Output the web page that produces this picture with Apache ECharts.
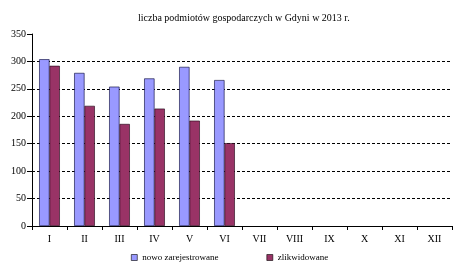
<!DOCTYPE html>
<html><head><meta charset="utf-8">
<script src="https://cdn.jsdelivr.net/npm/echarts@6/dist/echarts.min.js"></script>
<style>html,body{margin:0;padding:0;background:#fff}#c{width:460px;height:267px}</style>
</head><body><div id="c"></div>
<script>
const categories = ['I','II','III','IV','V','VI','VII','VIII','IX','X','XI','XII'];
const nowoZarejestrowane = [304, 279, 254, 269, 290, 266, null, null, null, null, null, null];
const zlikwidowane = [292, 219, 186, 214, 192, 151, null, null, null, null, null, null];
const gridValues = [50, 100, 150, 200, 250, 300];
const seriesNames = ['nowo zarejestrowane', 'zlikwidowane'];
const titleText = 'liczba podmiotów gospodarczych w Gdyni w 2013 r.';

const font = '"Liberation Serif", "Times New Roman", serif';
const chart = echarts.init(document.getElementById('c'), null, {renderer: 'canvas'});
chart.setOption({
  animation: false,
  backgroundColor: '#fff',
  title: {
    text: titleText, left: 138, top: 13, padding: 0,
    textStyle: {fontFamily: font, fontSize: 10, fontWeight: 'normal', color: '#000'}
  },
  legend: {
    data: seriesNames, top: 253, left: 131, padding: 0, itemGap: 48,
    itemWidth: 6, itemHeight: 6, icon: 'rect',
    textStyle: {fontFamily: font, fontSize: 9, color: '#000'},
    itemStyle: {borderColor: '#000', borderWidth: 0.6}
  },
  grid: {left: 32, right: 8, top: 34, bottom: 41, containLabel: false},
  xAxis: {
    type: 'category', data: categories,
    axisLine: {lineStyle: {color: '#000', width: 1}},
    axisTick: {show: true, length: 4, alignWithLabel: false, lineStyle: {color: '#000'}},
    axisLabel: {fontFamily: font, fontSize: 10, color: '#000', margin: 8}
  },
  yAxis: {
    type: 'value', min: 0, max: 350, interval: 50,
    axisLine: {show: true, lineStyle: {color: '#000', width: 1}},
    axisTick: {show: true, length: 5, lineStyle: {color: '#000'}},
    axisLabel: {fontFamily: font, fontSize: 10, color: '#000', margin: 6},
    splitLine: {show: false}
  },
  series: [
    {
      name: 'grid', type: 'line', data: [], z: 1,
      markLine: {
        silent: true, symbol: 'none', label: {show: false}, z: 1,
        lineStyle: {color: '#000', type: [3, 2], width: 1},
        data: gridValues.map(v => ({yAxis: v}))
      }
    },
    {
      name: seriesNames[0], type: 'bar', data: nowoZarejestrowane,
      barGap: '0%', barCategoryGap: '41%',
      itemStyle: {color: '#9999FF', borderColor: '#000033', borderWidth: 0.6},
      z: 5
    },
    {
      name: seriesNames[1], type: 'bar', data: zlikwidowane,
      itemStyle: {color: '#993366', borderColor: '#1a0010', borderWidth: 0.6},
      z: 5
    }
  ]
});
</script></body></html>
